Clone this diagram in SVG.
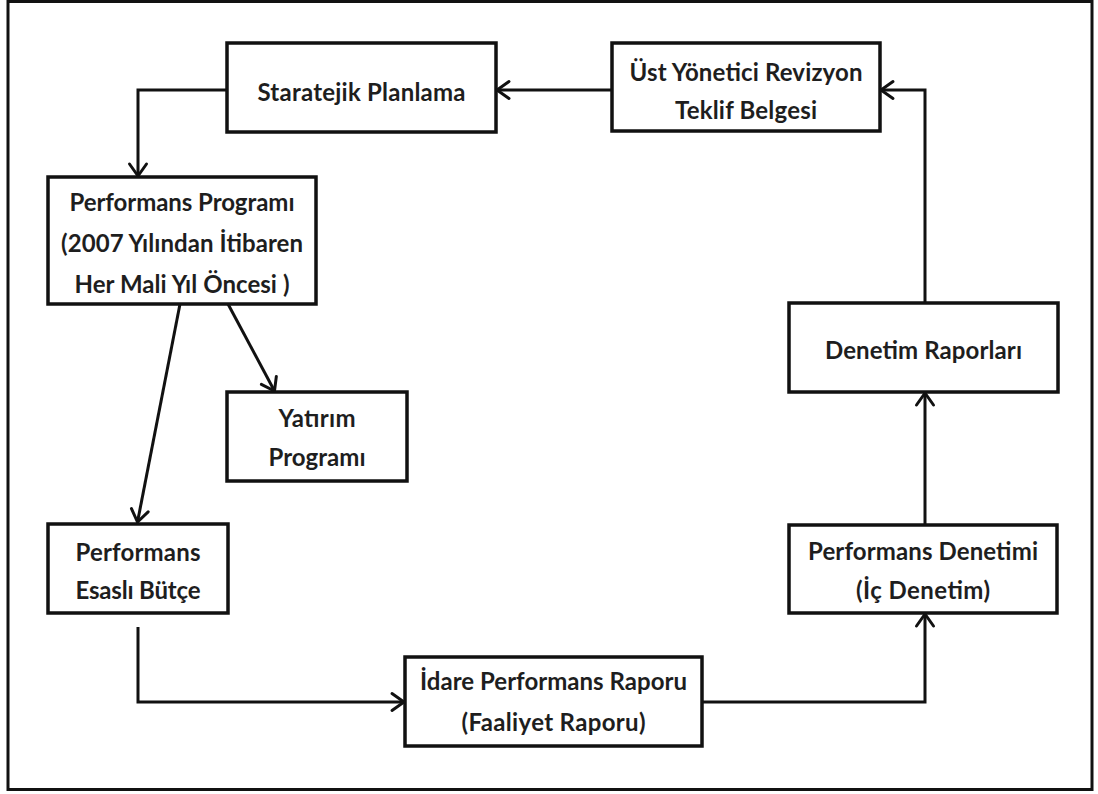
<svg xmlns="http://www.w3.org/2000/svg" width="1098" height="794" viewBox="0 0 1098 794">
  <style>
    .frame { fill: #ffffff; stroke: #111111; stroke-width: 3; }
    .box { fill: #ffffff; stroke: #111111; stroke-width: 3.5; }
    .lbl { font-family: Lato, "Liberation Sans", sans-serif; font-weight: 700; font-size: 24px; fill: #1e1e1e; text-anchor: middle; }
    .edge { fill: none; stroke: #111111; stroke-width: 3; marker-end: url(#arrow); }
  </style>
  <defs>
    <!-- open V arrowhead -->
    <marker id="arrow" markerUnits="userSpaceOnUse" viewBox="-15 -11 17 22" refX="0" refY="0" markerWidth="17" markerHeight="22" orient="auto" overflow="visible">
      <path d="M-12,-8.5 L0,0 L-12,8.5" fill="none" stroke="#111111" stroke-width="3" stroke-linecap="round" stroke-linejoin="miter"/>
    </marker>
  </defs>

  <rect class="frame" x="8" y="1.5" width="1084" height="788"/>

  <g id="connectors">
    <path class="edge" d="M612,90 H497"/>
    <path class="edge" d="M227,90 H138 V176"/>
    <path class="edge" d="M180,304 L137.5,522"/>
    <path class="edge" d="M228,304 L274.5,391"/>
    <path class="edge" d="M138,627 V702 H404"/>
    <path class="edge" d="M702,702 H925 V614"/>
    <path class="edge" d="M925,525 V393"/>
    <path class="edge" d="M925,303 V90 H881"/>
  </g>

  <g id="stratejik-planlama">
    <rect class="box" x="227" y="43" width="269" height="89"/>
    <text class="lbl" x="361.5" y="101" textLength="208">Staratejik Planlama</text>
  </g>

  <g id="ust-yonetici">
    <rect class="box" x="612" y="43" width="268" height="88"/>
    <text class="lbl" x="746" y="81" textLength="233">Üst Yönetici Revizyon</text>
    <text class="lbl" x="746" y="119" textLength="142">Teklif Belgesi</text>
  </g>

  <g id="performans-programi">
    <rect class="box" x="48" y="177" width="268" height="127"/>
    <text class="lbl" x="182" y="211" textLength="225">Performans Programı</text>
    <text class="lbl" x="182" y="252" textLength="242">(2007 Yılından İtibaren</text>
    <text class="lbl" x="182" y="293" textLength="215">Her Mali Yıl Öncesi )</text>
  </g>

  <g id="yatirim-programi">
    <rect class="box" x="227" y="392" width="180" height="89"/>
    <text class="lbl" x="317" y="427" textLength="77">Yatırım</text>
    <text class="lbl" x="317" y="466" textLength="97">Programı</text>
  </g>

  <g id="performans-esasli-butce">
    <rect class="box" x="48" y="524" width="180" height="89"/>
    <text class="lbl" x="138" y="561" textLength="125">Performans</text>
    <text class="lbl" x="138" y="599" textLength="125">Esaslı Bütçe</text>
  </g>

  <g id="idare-performans-raporu">
    <rect class="box" x="405" y="657" width="297" height="89"/>
    <text class="lbl" x="553.5" y="690" textLength="267">İdare Performans Raporu</text>
    <text class="lbl" x="553.5" y="731" textLength="184">(Faaliyet Raporu)</text>
  </g>

  <g id="performans-denetimi">
    <rect class="box" x="789" y="525" width="268" height="88"/>
    <text class="lbl" x="923" y="560" textLength="230">Performans Denetimi</text>
    <text class="lbl" x="923" y="599" textLength="134">(İç Denetim)</text>
  </g>

  <g id="denetim-raporlari">
    <rect class="box" x="789" y="303" width="269" height="89"/>
    <text class="lbl" x="923.5" y="359" textLength="197">Denetim Raporları</text>
  </g>
</svg>
